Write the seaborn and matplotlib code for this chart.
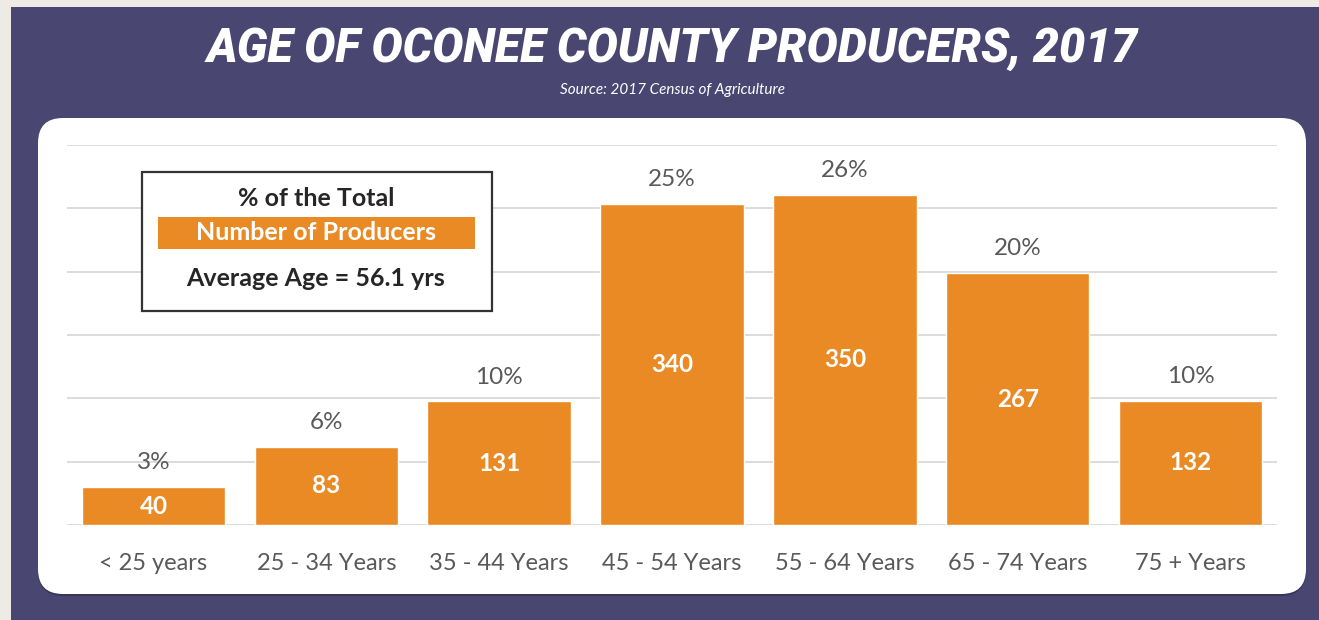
import numpy as np
import pandas as pd
import matplotlib
matplotlib.use("Agg")
import matplotlib.pyplot as plt
import seaborn as sns
from matplotlib.patches import FancyBboxPatch, Rectangle

# data
age_groups = ["< 25 years", "25 - 34 Years", "35 - 44 Years", "45 - 54 Years",
              "55 - 64 Years", "65 - 74 Years", "75 + Years"]
producers = [40, 83, 131, 340, 350, 267, 132]
pct_labels = ["3%", "6%", "10%", "25%", "26%", "20%", "10%"]

total = sum(producers)

# colours
purple = "#4a4672"
orange = "#ea8a25"
beige = "#eeebe4"
grey_txt = "#595959"
grid_c = "#d9d9d9"

sns.set_theme(style="white")
plt.rcParams["font.family"] = ["Lato", "DejaVu Sans"]

W, H = 1319, 620
fig = plt.figure(figsize=(W / 100, H / 100), dpi=100, facecolor=beige)

# background in pixel coords
bg = fig.add_axes([0, 0, 1, 1], zorder=0)
bg.set_xlim(0, W)
bg.set_ylim(H, 0)
bg.axis("off")
bg.add_patch(Rectangle((11, 7), W - 11, H - 7, color=purple, lw=0))
r = 25
bg.add_patch(FancyBboxPatch((38 + r, 120 + r), 1268 - 2 * r, 476 - 2 * r,
                            boxstyle=f"round,pad={r}", fc="#38345c", ec="none"))
bg.add_patch(FancyBboxPatch((38 + r, 118 + r), 1268 - 2 * r, 476 - 2 * r,
                            boxstyle=f"round,pad={r}", fc="white", ec="none"))

# main chart
ax = fig.add_axes([67 / W, (H - 525) / H, (1277 - 67) / W, (525 - 145) / H], zorder=1)
ax.patch.set_alpha(0)
df = pd.DataFrame({"age": age_groups, "n": producers})
sns.barplot(data=df, x="age", y="n", color=orange, saturation=1, width=0.83, ax=ax)
ax.set_xlim(-0.5, 6.5)
ax.set_ylim(0, total * 0.30)
ax.set_yticks([total * 0.05 * k for k in range(7)])
ax.set_yticklabels([])
ax.yaxis.grid(True, color=grid_c, lw=1.3)
ax.set_axisbelow(True)
for s in ax.spines.values():
    s.set_visible(False)
ax.set_xlabel("")
ax.set_ylabel("")
ax.tick_params(left=False, bottom=False, pad=14)
ax.set_xticks(range(len(age_groups)))
ax.set_xticklabels(age_groups, fontsize=17, color=grey_txt)

bars = ax.containers[0]
ax.bar_label(bars, labels=[str(v) for v in producers], label_type="center",
             color="white", fontweight="bold", fontsize=17.5)
ax.bar_label(bars, labels=pct_labels, padding=10, color=grey_txt, fontsize=17.5)

# overlay: title, source, legend box
ov = fig.add_axes([0, 0, 1, 1], zorder=2)
ov.set_xlim(0, W)
ov.set_ylim(H, 0)
ov.axis("off")
ov.text(672, 62, "AGE OF OCONEE COUNTY PRODUCERS, 2017", ha="center", va="baseline",
        color="white", fontsize=33.5, fontweight="heavy", style="italic",
        family=["Roboto", "DejaVu Sans"])
ov.text(672, 94, "Source: 2017 Census of Agriculture", ha="center", va="baseline",
        color="white", fontsize=11, style="italic")

ov.add_patch(Rectangle((142, 172), 350, 139, fc="white", ec="#333333", lw=1.6))
ov.add_patch(Rectangle((158, 217), 317, 32, fc=orange, ec="none"))
ov.text(316, 199, "% of the Total", ha="center", va="center", color="#262626",
        fontsize=18, fontweight="bold")
ov.text(316, 233, "Number of Producers", ha="center", va="center", color="white",
        fontsize=18, fontweight="bold")
ov.text(316, 278, "Average Age = 56.1 yrs", ha="center", va="center", color="#262626",
        fontsize=18, fontweight="bold")

fig.savefig("out.png", dpi=100, facecolor=beige)
